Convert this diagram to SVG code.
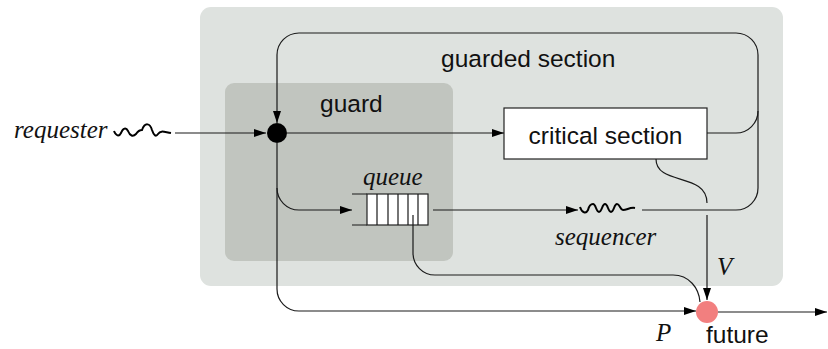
<svg xmlns="http://www.w3.org/2000/svg" width="828" height="349" viewBox="0 0 828 349">
<defs>
<marker id="ah" viewBox="0 0 12 8" refX="12" refY="4" markerWidth="12" markerHeight="8" markerUnits="userSpaceOnUse" orient="auto">
<path d="M0,0 L12,4 L0,8 Z" fill="#000"/>
</marker>
<style>
.ln{fill:none;stroke:#1a1a1a;stroke-width:1.2}
.arr{fill:none;stroke:#1a1a1a;stroke-width:1.2;marker-end:url(#ah)}
.sans{font-family:"Liberation Sans",Arial,sans-serif;font-size:24.5px;fill:#111}
.ital{font-family:"Liberation Serif","Times New Roman",serif;font-style:italic;font-size:25px;fill:#111}
.sq{fill:none;stroke:#000;stroke-width:2}
</style>
</defs>
<rect width="828" height="349" fill="#fff"/>
<g id="guarded-section">
<rect x="200" y="7" width="583" height="279" rx="11" fill="#dee2df"/>
<text class="sans" x="441" y="67">guarded section</text>
</g>
<g id="guard">
<rect x="225" y="83" width="228" height="178" rx="9" fill="#c1c5bf"/>
<text class="sans" x="320" y="112">guard</text>
</g>
<g id="critical-section">
<rect x="504" y="108" width="203" height="51" fill="#fff" stroke="#222" stroke-width="1.2"/>
<text class="sans" x="605.5" y="144" text-anchor="middle">critical section</text>
</g>
<g id="queue">
<rect x="367" y="194" width="61" height="31" fill="#fff" stroke="#222" stroke-width="1.2"/>
<path class="ln" d="M352,194 H367 M352,225 H367 M377,194 V225 M388,194 V225 M398,194 V225 M408,194 V225 M418,194 V225"/>
<text class="ital" x="363" y="185">queue</text>
</g>
<g id="requester">
<text class="ital" x="14" y="138">requester</text>
<path class="sq" d="M114,131 C116,136 119,137 121,133 C123,128 126,127 128,131 C130,136 133,137 136,134 C138,131 140,130 142,130 C145,122 150,123 152,130 C154,136 156,137 158,134 C161,130 164,132 171,133"/>
</g>
<g id="sequencer">
<path class="sq" d="M580,207 C582,213 586,214 588,210 C589,206 590,204 593,204 C596,204 596,212 599,212 C602,212 602,204 605,204 C608,204 608,212 611,212 C614,212 614,204 617,204 C620,204 620,210 623,210 C627,210 630,207 635,208"/>
<text class="ital" x="555" y="245">sequencer</text>
</g>
<g id="entry-dot">
<circle cx="277" cy="133" r="10" fill="#000"/>
</g>
<g id="future">
<circle cx="707" cy="312" r="11" fill="#f27f7f"/>
<text class="sans" x="706" y="343">future</text>
</g>
<g id="connectors">
<path class="arr" d="M175,133 H266"/>
<path class="arr" d="M287,133 H504"/>
<path class="arr" d="M642,210 H736 A22,22 0 0 0 758,188 V55 A22,22 0 0 0 736,33 H299 A22,22 0 0 0 277,55 V123"/>
<path class="ln" d="M707,133 H736 A22,22 0 0 0 758,111"/>
<path class="ln" d="M656,159 C656,186 707,172 707,203"/>
<path class="arr" d="M707,215 V300"/>
<path class="arr" d="M277,143 V289 A22,22 0 0 0 299,311 H696"/>
<path class="arr" d="M277,188 A22,22 0 0 0 299,210 H352"/>
<path class="arr" d="M433,210 H578"/>
<path class="ln" d="M413,215 V253 A22,22 0 0 0 435,275 H673 C689,275 699,288 700,302"/>
<path class="arr" d="M718,312 H827"/>
<text class="ital" x="717" y="275">V</text>
<text class="ital" x="656" y="341">P</text>
</g>
</svg>
